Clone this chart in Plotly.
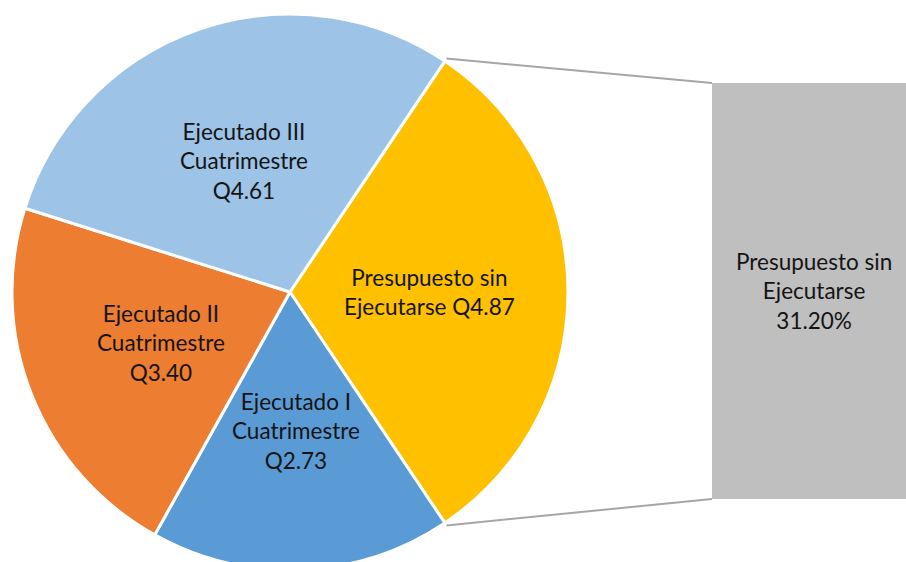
import math
import plotly.graph_objects as go

# Budget execution (Quetzales, millions)
labels = ["Presupuesto sin Ejecutarse", "Ejecutado I Cuatrimestre",
          "Ejecutado II Cuatrimestre", "Ejecutado III Cuatrimestre"]
values = [4.87, 2.73, 3.40, 4.61]
colors = ["#FFC000", "#5B9BD5", "#ED7D31", "#9DC3E6"]
pie_text = ["Presupuesto sin<br>Ejecutarse Q{:.2f}",
            "Ejecutado I<br>Cuatrimestre<br>Q{:.2f}",
            "Ejecutado II<br>Cuatrimestre<br>Q{:.2f}",
            "Ejecutado III<br>Cuatrimestre<br>Q{:.2f}"]
bar_label = "Presupuesto sin<br>Ejecutarse<br>{:.2f}%"

W, H = 906, 580
CX, CY, R = 290, 292, 278          # pie centre / radius in pixels
BAR_X0, BAR_TOP, BAR_BOT = 712, 83, 499
BAR_W = 204                        # full bar width in pixels (runs off the right edge)
FONT = dict(family="Lato, 'Open Sans', sans-serif", size=22.5, color="#141414")

total = sum(values)
share = values[0] / total
rotation = 90 - 180 * share       # unexecuted slice centred on 3 o'clock


def px(x):
    return x / W


def py(y):
    return (H - y) / H


def on_circle(angle_deg, r):
    a = math.radians(angle_deg)
    return CX + r * math.sin(a), CY - r * math.cos(a)


fig = go.Figure()

fig.add_trace(go.Pie(
    labels=labels, values=values, sort=False, direction="clockwise",
    rotation=rotation, textinfo="none", hoverinfo="label+value",
    marker=dict(colors=colors, line=dict(color="white", width=3)),
    domain=dict(x=[px(CX - R), px(CX + R)], y=[py(CY + R), py(CY - R)]),
    showlegend=False,
))

# secondary bar for the unexecuted share
pct = share * 100
fig.add_trace(go.Bar(
    x=[0], y=[pct], width=[1],
    marker=dict(color="#BFBFBF", line=dict(width=0)),
    xaxis="x", yaxis="y", showlegend=False, hoverinfo="y",
))

annotations = []
# labels placed halfway along each slice's mid angle
angle = rotation
for v, t in zip(values, pie_text):
    span = v / total * 360
    mx, my = on_circle(angle + span / 2, R * 0.5)
    annotations.append(dict(x=px(mx), y=py(my), xref="paper", yref="paper",
                            xanchor="center", yanchor="middle",
                            text=t.format(v), showarrow=False, font=FONT,
                            align="center"))
    angle += span

annotations.append(dict(x=0, y=pct / 2, xref="x", yref="y",
                        xanchor="center", yanchor="middle",
                        text=bar_label.format(pct), showarrow=False,
                        font=FONT, align="center"))

# connector lines from the slice edges to the bar
x1, y1 = on_circle(rotation, R + 3)
x2, y2 = on_circle(rotation + share * 360, R + 3)
shapes = [
    dict(type="line", xref="paper", yref="paper", x0=px(x1), y0=py(y1),
         x1=px(BAR_X0), y1=py(BAR_TOP), line=dict(color="#A6A6A6", width=2)),
    dict(type="line", xref="paper", yref="paper", x0=px(x2), y0=py(y2),
         x1=px(BAR_X0), y1=py(BAR_BOT), line=dict(color="#A6A6A6", width=2)),
]

fig.update_layout(
    width=W, height=H, margin=dict(l=0, r=0, t=0, b=0),
    paper_bgcolor="white", plot_bgcolor="white",
    xaxis=dict(domain=[px(BAR_X0), 1],
               range=[-0.5, -0.5 + (W - BAR_X0) / BAR_W],
               visible=False, fixedrange=True),
    yaxis=dict(domain=[py(BAR_BOT), py(BAR_TOP)], range=[0, pct],
               visible=False, fixedrange=True),
    annotations=annotations, shapes=shapes,
)

fig.write_html("out.html", post_script=(
    "document.documentElement.style.overflow='hidden';"
    "document.body.style.overflow='hidden';"
    "document.body.style.margin='0';"))
